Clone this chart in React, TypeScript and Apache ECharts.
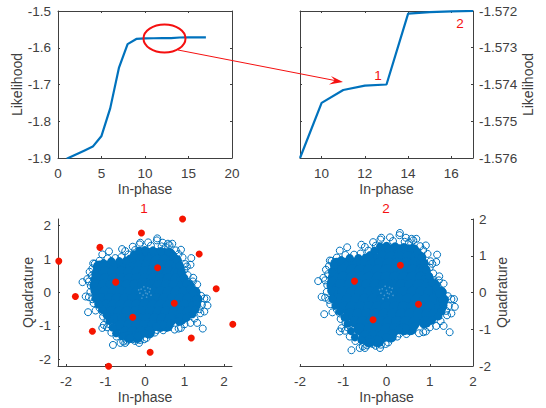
import React, { useEffect, useRef } from "react";
import * as echarts from "echarts";

const iterations = [1, 2, 3, 4, 5, 6, 7, 8, 9, 10, 11, 12, 13, 14, 15, 16, 17];
const likelihood = [-1.902, -1.891, -1.88, -1.869, -1.84, -1.765, -1.655, -1.59, -1.576, -1.5745, -1.57415, -1.57403, -1.574, -1.57207, -1.57203, -1.57201, -1.572];
const zoomIterations = [9, 10, 11, 12, 13, 14, 15, 16, 17];
const zoomLikelihood = [-1.576, -1.5745, -1.57415, -1.57403, -1.574, -1.57207, -1.57203, -1.57201, -1.572];

const coreRows: [number, number[]][] = [
  [1.15, [-0.1, 0.1, 0.3, 0.5, 0.62]],
  [0.95, [-0.3, -0.1, 0.1, 0.3, 0.5, 0.7, 0.78]],
  [0.78, [-1.15, -0.95, -0.75, -0.55, -0.35, -0.15, 0.05, 0.25, 0.45, 0.65, 0.83]],
  [0.6, [-1.18, -1, -0.8, -0.6, -0.4, -0.2, 0, 0.2, 0.4, 0.6, 0.8, 0.88]],
  [0.4, [-1.22, -1, -0.8, -0.6, -0.4, -0.2, 0, 0.2, 0.4, 0.6, 0.8, 0.95]],
  [0.2, [-1.25, -1.05, -0.85, -0.65, -0.45, -0.25, -0.05, 0.15, 0.35, 0.55, 0.75, 0.95, 1.1]],
  [0, [-1.2, -1, -0.8, -0.6, -0.4, -0.2, 0, 0.2, 0.4, 0.6, 0.8, 1, 1.2, 1.25]],
  [-0.2, [-1.1, -0.9, -0.7, -0.5, -0.3, -0.1, 0.1, 0.3, 0.5, 0.7, 0.9, 1.1, 1.3]],
  [-0.4, [-0.98, -0.8, -0.6, -0.4, -0.2, 0, 0.2, 0.4, 0.6, 0.8, 1, 1.25]],
  [-0.6, [-0.85, -0.65, -0.45, -0.25, -0.05, 0.15, 0.35, 0.55, 0.75, 0.95, 1.1]],
  [-0.8, [-0.72, -0.55, -0.35, -0.15, 0.05, 0.25, 0.45, 0.65, 0.9]],
  [-1.0, [-0.62, -0.4, -0.2, 0, 0.2, 0.4, 0.55]],
  [-1.2, [-0.5, -0.3, -0.1, 0.1]],
  [-1.33, [-0.4, -0.2]],
];

const edgePoints: [number, number][] = [
  [-0.38, 1.02], [-0.28, 1.14], [-0.15, 1.25], [0, 1.27], [0.2, 1.26], [0.4, 1.24], [0.6, 1.21], [0.72, 1.1], [0.82, 0.95], [0.88, 0.8],
  [0.92, 0.62], [0.98, 0.45], [1.05, 0.28], [1.15, 0.12], [1.22, -0.02], [1.3, -0.2], [1.32, -0.35], [1.27, -0.52], [1.2, -0.65], [1.05, -0.76],
  [0.85, -0.86], [0.65, -0.92], [0.45, -0.97], [0.28, -1.02], [0.12, -1.12], [0, -1.22], [-0.18, -1.3], [-0.38, -1.36], [-0.58, -1.3], [-0.73, -1.22],
  [-0.82, -1.05], [-0.9, -0.85], [-0.97, -0.68], [-1.08, -0.52], [-1.18, -0.36], [-1.25, -0.18], [-1.28, 0.05], [-1.28, 0.3], [-1.26, 0.55], [-1.22, 0.75],
  [-1.05, 0.88], [-0.85, 0.94], [-0.65, 0.94], [-0.48, 0.95],
];

const outerSamples: [number, number][] = [
  [0.31, 1.62], [0.3, 1.56], [0.08, 1.5], [-0.12, 1.49], [-0.14, 1.44], [-0.31, 1.37], [-0.58, 1.3], [-0.5, 1.24], [-0.42, 1.14],
  [-0.91, 1.23], [-1.08, 1.14], [-1.31, 0.87], [-1.27, 0.86], [-1.4, 0.62], [-1.35, 0.5], [-1.58, 0.31], [-1.46, 0.4], [-1.42, 0.33],
  [-1.5, -0.12], [-1.42, -0.14], [-1.33, -0.2], [-1.44, -0.59], [-1.25, -0.54], [-1.08, -0.57], [-1.04, -0.97], [-1.08, -1.06],
  [-0.96, -1.04], [-0.9, -0.95], [-0.81, -1.57], [-0.62, -1.51], [-0.55, -1.47], [-0.5, -1.51], [-0.32, -1.4], [-0.15, -1.51],
  [-0.13, -1.42], [0.04, -1.36], [0.25, -1.2], [0.46, -1.13], [0.6, -1.03], [0.75, -1.11], [0.85, -1.08], [0.91, -1.06], [1.0, -0.95],
  [1.15, -0.91], [1.32, -0.91], [1.46, -1.08], [1.5, -0.57], [1.44, -0.37], [1.58, -0.39], [1.5, -0.18], [1.56, -0.18], [1.38, -0.5],
  [1.32, 0.24], [1.22, 0.44], [1.21, 0.33], [1.1, 0.3], [1.15, 0.83], [1.17, 1.03], [1.06, 0.78], [1.02, 0.85], [0.91, 1.28],
  [0.85, 1.15], [0.69, 1.46], [0.62, 1.42], [0.58, 1.46], [0.45, 1.49], [0.42, 1.38], [-0.25, 1.27], [-1.2, 0.83], [-1.18, -0.3],
  [0.15, 1.4], [0.52, 1.36], [0.78, 1.26], [0.95, 1.05], [1.0, 0.68], [1.08, 0.52], [1.18, 0.18], [1.3, 0.02], [1.42, -0.1], [1.4, -0.62],
  [1.25, -0.78], [0.3, -1.12], [0.1, -1.25], [-0.02, -1.4], [-0.25, -1.45], [-0.45, -1.44], [-0.72, -1.32], [-0.85, -1.2], [-0.95, -0.82],
  [-1.06, -0.72], [-1.15, -0.46], [-1.3, -0.32], [-1.38, 0.02], [-1.37, 0.2], [-1.33, 0.72], [-1.15, 0.95], [-0.95, 1.02], [-0.75, 1.03], [-0.6, 1.06],
];

const centreSpeckle: [number, number][] = [
  [-0.1, 0.1], [-0.05, -0.08], [0, 0.06], [0.04, -0.14], [0.07, 0.14], [0.11, 0.02], [-0.13, -0.02], [0.15, -0.08], [-0.03, 0.17],
  [0.02, -0.02], [-0.08, -0.17], [0.13, 0.11], [-0.16, 0.08], [0.06, -0.04],
];

const innerCentroids: [number, number][] = [[0.32, 0.74], [-0.74, 0.31], [0.74, -0.32], [-0.31, -0.74]];
const outerCentroids: [number, number][] = [
  [0.95, 2.2], [-0.09, 1.78], [-1.14, 1.35], [1.37, 1.15], [-2.18, 0.94], [1.8, 0.11],
  [-1.76, -0.12], [2.22, -0.95], [-1.33, -1.16], [1.17, -1.36], [0.13, -1.79], [-0.92, -2.21],
];

const scatterTicks = [-2, -1, 0, 1, 2];
const zoomXTicks = [10, 12, 14, 16];

const BLUE = "#0072BD";
const INK = "#404040";
const RED = "#f51010";
const FONT = "Liberation Sans";
const corePoints = coreRows.flatMap(([y, xs]) => xs.map((x) => [x, y]));

const textStyle = { color: INK, fontFamily: FONT, fontSize: 13 };
const labelBase = { color: INK, fontFamily: FONT, fontSize: 13.5, margin: 8 };
const tickBase = { show: true, inside: true, length: 2, lineStyle: { color: INK, width: 1 } };

function axis(extra: any) {
  return {
    axisLine: { show: true, onZero: false, lineStyle: { color: INK, width: 1 } },
    axisTick: tickBase,
    axisLabel: labelBase,
    splitLine: { show: false },
    nameLocation: "middle",
    nameTextStyle: { color: INK, fontFamily: FONT, fontSize: 14 },
    ...extra,
  };
}

function mirror(extra: any) {
  return axis({ axisLabel: { show: false }, ...extra });
}

function cloudSeries(idx: number, centroids: [number, number][]) {
  const base = { type: "scatter", xAxisIndex: idx, yAxisIndex: idx, clip: false, silent: true };
  return [
    { ...base, name: "samples", data: outerSamples, symbolSize: 7, itemStyle: { color: "transparent", borderColor: BLUE, borderWidth: 1, opacity: 1 } },
    { ...base, name: "core", data: corePoints, symbolSize: 12, itemStyle: { color: BLUE, opacity: 1 } },
    { ...base, name: "edge", data: edgePoints, symbolSize: 8, itemStyle: { color: BLUE, opacity: 1 } },
    { ...base, name: "speckle", data: centreSpeckle, symbolSize: 1.5, itemStyle: { color: "#4a9ad0", opacity: 1 } },
    { ...base, name: "centroids", data: centroids, symbolSize: 7, itemStyle: { color: "#f51500", opacity: 1 } },
  ];
}

export default function App() {
  const ref = useRef<HTMLDivElement>(null);
  useEffect(() => {
    const chart = echarts.init(ref.current!, undefined, { renderer: "svg" });
    const lineStyle = { color: BLUE, width: 2.2 };
    const fmt1 = (v: number) => v.toFixed(1);
    const fmt3 = (v: number) => v.toFixed(3);
    const titleStyle = { color: RED, fontFamily: FONT, fontSize: 13.5, fontWeight: "normal" };
    chart.setOption({
      animation: false,
      backgroundColor: "#fff",
      textStyle,
      title: [
        { text: "1", left: 144, top: 201, padding: 0, textAlign: "center", textStyle: titleStyle },
        { text: "2", left: 386, top: 201, padding: 0, textAlign: "center", textStyle: titleStyle },
      ],
      grid: [
        { left: 58, top: 11, width: 174, height: 147 },
        { left: 300, top: 11, width: 173, height: 147 },
        { left: 58, top: 219, width: 174, height: 147 },
        { left: 300, top: 219, width: 173, height: 147 },
      ],
      xAxis: [
        axis({ gridIndex: 0, type: "value", min: 0, max: 20, interval: 5, position: "bottom", name: "In-phase", nameGap: 24 }),
        axis({ gridIndex: 1, type: "value", min: 9, max: 17, position: "bottom", name: "In-phase", nameGap: 24,
          axisTick: { ...tickBase, customValues: zoomXTicks },
          axisLabel: { ...labelBase, customValues: zoomXTicks } }),
        axis({ gridIndex: 2, type: "value", min: -2.2, max: 2.2, position: "bottom", name: "In-phase", nameGap: 24,
          axisTick: { ...tickBase, customValues: scatterTicks },
          axisLabel: { ...labelBase, customValues: scatterTicks } }),
        axis({ gridIndex: 3, type: "value", min: -2, max: 2, interval: 1, position: "bottom", name: "In-phase", nameGap: 24 }),
        mirror({ gridIndex: 0, type: "value", min: 0, max: 20, interval: 5, position: "top" }),
        mirror({ gridIndex: 1, type: "value", min: 9, max: 17, position: "top", axisTick: { ...tickBase, customValues: zoomXTicks } }),
      ],
      yAxis: [
        axis({ gridIndex: 0, type: "value", min: -1.9, max: -1.5, interval: 0.1, position: "left", name: "Likelihood", nameGap: 32,
          axisLabel: { ...labelBase, margin: 7, formatter: fmt1 } }),
        axis({ gridIndex: 1, type: "value", min: -1.576, max: -1.572, interval: 0.001, position: "right", name: "Likelihood", nameGap: 47,
          axisLabel: { ...labelBase, margin: 6, formatter: fmt3 } }),
        axis({ gridIndex: 2, type: "value", min: -2.2, max: 2.2, position: "left", name: "Quadrature", nameGap: 22,
          axisTick: { ...tickBase, customValues: scatterTicks },
          axisLabel: { ...labelBase, margin: 7, customValues: scatterTicks } }),
        axis({ gridIndex: 3, type: "value", min: -2, max: 2, interval: 1, position: "right", name: "Quadrature", nameGap: 22,
          axisLabel: { ...labelBase, margin: 6 } }),
        mirror({ gridIndex: 0, type: "value", min: -1.9, max: -1.5, interval: 0.1, position: "right" }),
        mirror({ gridIndex: 1, type: "value", min: -1.576, max: -1.572, interval: 0.001, position: "left" }),
      ],
      series: [
        { type: "line", xAxisIndex: 0, yAxisIndex: 0, showSymbol: false, symbol: "none", lineStyle, data: iterations.map((x, i) => [x, likelihood[i]]) },
        { type: "line", xAxisIndex: 1, yAxisIndex: 1, showSymbol: false, symbol: "none", lineStyle, data: zoomIterations.map((x, i) => [x, zoomLikelihood[i]]) },
        ...cloudSeries(2, [...innerCentroids, ...outerCentroids]),
        ...cloudSeries(3, innerCentroids),
      ],
      graphic: [
        { type: "ellipse", shape: { cx: 164.5, cy: 38.5, rx: 21, ry: 14 }, style: { fill: "none", stroke: RED, lineWidth: 2 }, z: 100 },
        { type: "line", shape: { x1: 178, y1: 50, x2: 340, y2: 81.5 }, style: { stroke: RED, lineWidth: 1 }, z: 100 },
        { type: "polygon", shape: { points: [[343, 82], [331, 76], [335, 80.5], [329, 84.5]] }, style: { fill: RED }, z: 100 },
        { type: "text", x: 378, y: 75, style: { text: "1", fill: RED, font: "13.5px Liberation Sans", textAlign: "center", textVerticalAlign: "middle" }, z: 100 },
        { type: "text", x: 460, y: 23, style: { text: "2", fill: RED, font: "13.5px Liberation Sans", textAlign: "center", textVerticalAlign: "middle" }, z: 100 },
      ],
    });
    return () => chart.dispose();
  }, []);
  return <div ref={ref} style={{ position: "fixed", left: 0, top: 0, width: 546, height: 408 }} />;
}
